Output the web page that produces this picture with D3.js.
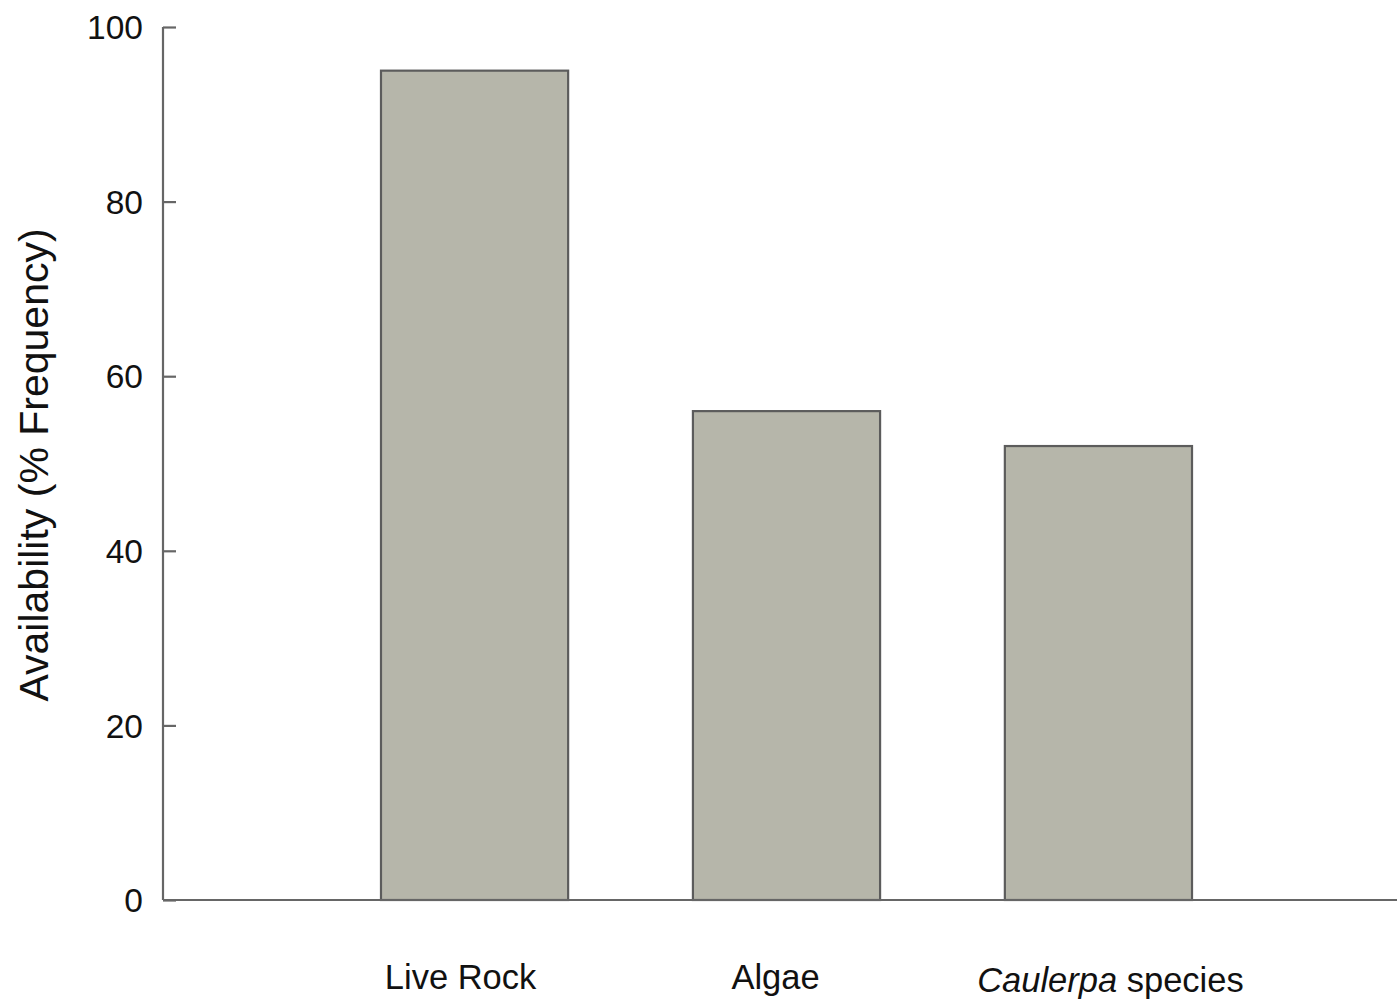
<!DOCTYPE html>
<html><head><meta charset="utf-8">
<script src="https://cdn.jsdelivr.net/npm/d3@7"></script>
<style>body{margin:0;background:#fff}svg{display:block}text{font-family:"Liberation Sans",Arial,sans-serif;fill:#111}</style>
</head><body>
<script>
const categories = ["Live Rock", "Algae", "Caulerpa species"];
const values = [95, 56, 52];
const yTicks = [0, 20, 40, 60, 80, 100];
const yTitle = "Availability (% Frequency)";

const W = 1397, H = 1003;
const svg = d3.select("body").append("svg").attr("width", W).attr("height", H);

const x = d3.scaleBand().domain(categories).range([318.6, 1254.4]).paddingInner(0.4).paddingOuter(0.2);
const y = d3.scaleLinear().domain([0, 100]).range([900, 27]);

// bars
svg.selectAll("rect.bar").data(values).enter().append("rect")
  .attr("class", "bar")
  .attr("x", (d, i) => x(categories[i]))
  .attr("y", d => y(d))
  .attr("width", x.bandwidth())
  .attr("height", d => y(0) - y(d))
  .attr("fill", "#b6b6aa")
  .attr("stroke", "#5c5c5c")
  .attr("stroke-width", 2.2);

// y axis
const yAxis = d3.axisRight(y).tickValues(yTicks).tickSize(13).tickFormat(d3.format("d"));
const gy = svg.append("g").attr("transform", "translate(163,0)").call(yAxis);
gy.select(".domain").attr("d", `M0,${y(100)}V${y(0)}`).attr("stroke", "#666").attr("stroke-width", 2.2);
gy.selectAll(".tick line").attr("stroke", "#666").attr("stroke-width", 2.2);
gy.selectAll(".tick text").attr("x", -20).attr("text-anchor", "end").attr("dy", "0.35em")
  .style("font-size", "33.5px").attr("fill", "#111");

// x axis line
svg.append("line").attr("x1", 163).attr("x2", W).attr("y1", y(0)).attr("y2", y(0))
  .attr("stroke", "#666").attr("stroke-width", 2.2);

// category labels
const labelDx = [-14, -11, 12];
const labelY = [989, 989, 992];
categories.forEach((c, i) => {
  const t = svg.append("text")
    .attr("x", x(c) + x.bandwidth() / 2 + labelDx[i])
    .attr("y", labelY[i])
    .attr("text-anchor", "middle")
    .style("font-size", "34.5px");
  if (c === "Caulerpa species") {
    t.append("tspan").style("font-style", "italic").text("Caulerpa");
    t.append("tspan").text(" species");
  } else {
    t.text(c);
  }
});

// y title
svg.append("text")
  .attr("transform", "translate(48,465) rotate(-90)")
  .attr("text-anchor", "middle")
  .style("font-size", "41px")
  .text(yTitle);
</script>
</body></html>
